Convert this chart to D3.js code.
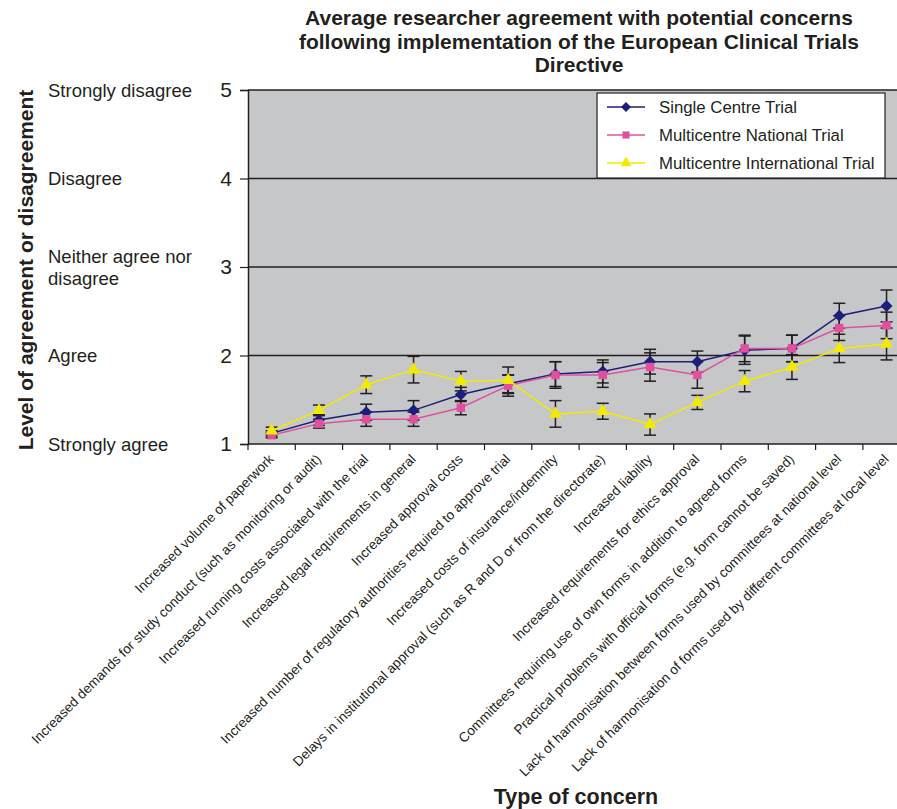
<!DOCTYPE html>
<html>
<head>
<meta charset="utf-8">
<script src="https://cdn.jsdelivr.net/npm/d3@7"></script>
<style>
  body { margin: 0; background: #fff; }
  text { font-family: "Liberation Sans", Arial, sans-serif; fill: #231f20; }
</style>
</head>
<body>
<div id="chart"></div>
<script>
const categories = [
    "Increased volume of paperwork",
    "Increased demands for study conduct (such as monitoring or audit)",
    "Increased running costs associated with the trial",
    "Increased legal requirements in general",
    "Increased approval costs",
    "Increased number of regulatory authorities required to approve trial",
    "Increased costs of insurance/indemnity",
    "Delays in institutional approval (such as R and D or from the directorate)",
    "Increased liability",
    "Increased requirements for ethics approval",
    "Committees requiring use of own forms in addition to agreed forms",
    "Practical problems with official forms (e.g. form cannot be saved)",
    "Lack of harmonisation between forms used by committees at national level",
    "Lack of harmonisation of forms used by different committees at local level"
];

const series_names = ["Single Centre Trial", "Multicentre National Trial", "Multicentre International Trial"];

const single_values = [1.12, 1.27, 1.36, 1.38, 1.56, 1.68, 1.79, 1.82, 1.93, 1.93, 2.06, 2.08, 2.45, 2.56];
const national_values = [1.10, 1.23, 1.28, 1.28, 1.41, 1.66, 1.78, 1.78, 1.87, 1.78, 2.08, 2.08, 2.31, 2.34];
const international_values = [1.15, 1.38, 1.67, 1.84, 1.71, 1.72, 1.34, 1.37, 1.22, 1.47, 1.71, 1.87, 2.08, 2.13];

const single_err = [0.03, 0.06, 0.09, 0.11, 0.08, 0.10, 0.14, 0.13, 0.14, 0.12, 0.16, 0.15, 0.14, 0.18];
const national_err = [0.03, 0.05, 0.08, 0.08, 0.08, 0.12, 0.15, 0.14, 0.16, 0.15, 0.15, 0.15, 0.14, 0.15];
const international_err = [0.04, 0.06, 0.10, 0.15, 0.11, 0.15, 0.15, 0.09, 0.12, 0.08, 0.12, 0.14, 0.16, 0.18];

const y_ticks = [1, 2, 3, 4, 5];
const y_level_labels = ["Strongly agree", "Agree", "Neither agree nor|disagree", "Disagree", "Strongly disagree"];

const colors = ["#1c1f78", "#e0509e", "#f2ea00"];
const marker_types = [d3.symbolDiamond2, d3.symbolSquare2, d3.symbolTriangle2];

let series = [
    {"name": series_names[0], "values": single_values, "err": single_err, "color": colors[0], "marker": marker_types[0]},
    {"name": series_names[1], "values": national_values, "err": national_err, "color": colors[1], "marker": marker_types[1]},
    {"name": series_names[2], "values": international_values, "err": international_err, "color": colors[2], "marker": marker_types[2]}
];

let width = 897;
let height = 809;

let plot_left = 248;
let plot_top = 90;
let plot_bottom = 444;
let band = 47.3;
let plot_right = plot_left + band * categories.length;

let svg = d3.select("#chart")
    .append("svg")
    .attr("width", width)
    .attr("height", height);

let xScale = d3.scaleBand()
    .domain(categories)
    .range([plot_left, plot_right]);

let yScale = d3.scaleLinear()
    .domain([1, 5])
    .range([plot_bottom, plot_top]);

// plot background
svg.append("rect")
    .attr("x", plot_left)
    .attr("y", plot_top)
    .attr("width", plot_right - plot_left)
    .attr("height", plot_bottom - plot_top)
    .attr("fill", "#c6c7c9");

// gridlines
svg.append("g")
    .selectAll("line")
    .data(y_ticks.slice(1))
    .enter()
    .append("line")
    .attr("x1", plot_left)
    .attr("x2", plot_right)
    .attr("y1", d => yScale(d))
    .attr("y2", d => yScale(d))
    .attr("stroke", "#231f20")
    .attr("stroke-width", 1.5);

// y axis
let y_axis = svg.append("g")
    .attr("transform", "translate(" + plot_left + ",0)")
    .call(d3.axisLeft(yScale).tickValues(y_ticks).tickSize(8).tickPadding(8).tickFormat(d3.format("d")));
y_axis.select(".domain").attr("stroke", "#231f20").attr("stroke-width", 1.5);
y_axis.selectAll(".tick line").attr("stroke", "#231f20").attr("stroke-width", 1.2);
y_axis.selectAll("text")
    .attr("font-size", "21px")
    .attr("fill", "#231f20")
    .attr("font-family", "Liberation Sans, Arial, sans-serif");

// level labels
y_ticks.forEach(function(t, i) {
    let parts = y_level_labels[i].split("|");
    let txt = svg.append("text")
        .attr("x", 48)
        .attr("y", yScale(t) + 6.5 - (parts.length - 1) * 11)
        .attr("font-size", "18.5px");
    parts.forEach(function(p, j) {
        txt.append("tspan")
            .attr("x", 48)
            .attr("dy", j === 0 ? 0 : 22)
            .text(p);
    });
});

// x axis
let x_axis = svg.append("g")
    .attr("transform", "translate(0," + plot_bottom + ")");
x_axis.append("line")
    .attr("x1", plot_left)
    .attr("x2", plot_right)
    .attr("stroke", "#231f20")
    .attr("stroke-width", 1.5);
x_axis.selectAll(".xtick")
    .data(categories)
    .enter()
    .append("line")
    .attr("class", "xtick")
    .attr("x1", d => xScale(d))
    .attr("x2", d => xScale(d))
    .attr("y1", 0)
    .attr("y2", 6)
    .attr("stroke", "#231f20")
    .attr("stroke-width", 1.2);

x_axis.selectAll(".xlabel")
    .data(categories)
    .enter()
    .append("text")
    .attr("class", "xlabel")
    .attr("text-anchor", "end")
    .attr("font-size", "13.6px")
    .attr("transform", function(d) {
        return "translate(" + (xScale(d) + xScale.bandwidth() / 2 + 3) + ",16) rotate(-45)";
    })
    .text(d => d);

// error bars
series.forEach(function(s) {
    let g = svg.append("g");
    categories.forEach(function(c, i) {
        let cx = xScale(c) + xScale.bandwidth() / 2;
        let lo = yScale(s.values[i] - s.err[i]);
        let hi = yScale(s.values[i] + s.err[i]);
        g.append("line").attr("x1", cx).attr("x2", cx).attr("y1", lo).attr("y2", hi)
            .attr("stroke", "#231f20").attr("stroke-width", 1.5);
        g.append("line").attr("x1", cx - 6).attr("x2", cx + 6).attr("y1", lo).attr("y2", lo)
            .attr("stroke", "#231f20").attr("stroke-width", 1.5);
        g.append("line").attr("x1", cx - 6).attr("x2", cx + 6).attr("y1", hi).attr("y2", hi)
            .attr("stroke", "#231f20").attr("stroke-width", 1.5);
    });
});

// lines and markers
let line = d3.line()
    .x((d, i) => xScale(categories[i]) + xScale.bandwidth() / 2)
    .y(d => yScale(d));

series.forEach(function(s) {
    svg.append("path")
        .datum(s.values)
        .attr("d", line)
        .attr("fill", "none")
        .attr("stroke", s.color)
        .attr("stroke-width", 1.5);

    svg.append("g")
        .selectAll("path")
        .data(s.values)
        .enter()
        .append("path")
        .attr("d", d3.symbol().type(s.marker).size(s.marker === d3.symbolTriangle2 ? 120 : 90))
        .attr("transform", (d, i) => "translate(" + (xScale(categories[i]) + xScale.bandwidth() / 2) + "," + yScale(d) + ")")
        .attr("fill", s.color);
});

// legend
let legend = svg.append("g").attr("transform", "translate(597,93)");
legend.append("rect")
    .attr("width", 288)
    .attr("height", 85)
    .attr("fill", "white")
    .attr("stroke", "#231f20")
    .attr("stroke-width", 1.2);
series.forEach(function(s, i) {
    let ly = 14 + i * 28;
    legend.append("line")
        .attr("x1", 10).attr("x2", 48).attr("y1", ly).attr("y2", ly)
        .attr("stroke", s.color).attr("stroke-width", 1.5);
    legend.append("path")
        .attr("d", d3.symbol().type(s.marker).size(s.marker === d3.symbolTriangle2 ? 90 : 65))
        .attr("transform", "translate(29," + ly + ")")
        .attr("fill", s.color);
    legend.append("text")
        .attr("x", 62)
        .attr("y", ly + 6)
        .attr("font-size", "16.8px")
        .text(s.name);
});

// title
let title_lines = ["Average researcher agreement with potential concerns", "following implementation of the European Clinical Trials", "Directive"];
svg.append("g")
    .selectAll("text")
    .data(title_lines)
    .enter()
    .append("text")
    .attr("x", 579)
    .attr("y", (d, i) => 25 + i * 23.5)
    .attr("text-anchor", "middle")
    .attr("font-size", "21px")
    .attr("font-weight", "bold")
    .text(d => d);

// axis titles
svg.append("text")
    .attr("transform", "translate(33,270) rotate(-90)")
    .attr("text-anchor", "middle")
    .attr("font-size", "21px")
    .attr("font-weight", "bold")
    .text("Level of agreement or disagreement");

svg.append("text")
    .attr("x", 576)
    .attr("y", 804)
    .attr("text-anchor", "middle")
    .attr("font-size", "21.5px")
    .attr("font-weight", "bold")
    .text("Type of concern");
</script>
</body>
</html>
